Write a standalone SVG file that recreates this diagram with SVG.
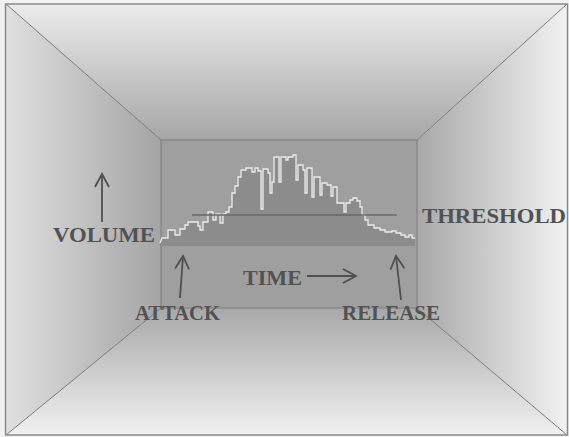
<svg xmlns="http://www.w3.org/2000/svg" width="569" height="437" viewBox="0 0 569 437">
<defs>
<linearGradient id="gTop" gradientUnits="userSpaceOnUse" x1="0" y1="4" x2="0" y2="140">
<stop offset="0" stop-color="#ececec"/><stop offset="1" stop-color="#a6a6a6"/>
</linearGradient>
<linearGradient id="gBot" gradientUnits="userSpaceOnUse" x1="0" y1="308" x2="0" y2="435">
<stop offset="0" stop-color="#a8a8a8"/><stop offset="1" stop-color="#f1f1f1"/>
</linearGradient>
<linearGradient id="gLeft" gradientUnits="userSpaceOnUse" x1="6" y1="0" x2="161" y2="0">
<stop offset="0" stop-color="#e0e0e0"/><stop offset="1" stop-color="#a4a4a4"/>
</linearGradient>
<linearGradient id="gRight" gradientUnits="userSpaceOnUse" x1="417" y1="0" x2="567" y2="0">
<stop offset="0" stop-color="#a8a8a8"/><stop offset="1" stop-color="#f2f2f2"/>
</linearGradient>
<marker id="open" viewBox="0 0 16 16" refX="14" refY="8" markerWidth="16" markerHeight="16" markerUnits="userSpaceOnUse" orient="auto">
<path d="M1,1 L14,8 L1,15" fill="none" stroke="#505050" stroke-width="1.8"/>
</marker>
<style>
.edge{stroke:#7c7c7c;stroke-width:1;fill:none}
.lbl{font-family:"Liberation Serif","DejaVu Serif",serif;font-weight:bold;font-size:21px;fill:#525252}
.arr{stroke:#505050;stroke-width:1.8;fill:none;marker-end:url(#open)}
</style>
</defs>
<rect x="0" y="0" width="569" height="437" fill="#f2f2f2"/>
<g id="room">
<polygon points="6,4 567,4 417,140 161,140" fill="url(#gTop)"/>
<polygon points="161,308 417,308 567,435 6,435" fill="url(#gBot)"/>
<polygon points="6,4 161,140 161,308 6,435" fill="url(#gLeft)"/>
<polygon points="567,4 417,140 417,308 567,435" fill="url(#gRight)"/>
<rect x="161" y="140" width="256" height="168" fill="#9f9f9f"/>
<rect x="161" y="140" width="256" height="168" class="edge"/>
<line x1="6" y1="4" x2="161" y2="140" class="edge"/>
<line x1="567" y1="4" x2="417" y2="140" class="edge"/>
<line x1="6" y1="435" x2="161" y2="308" class="edge"/>
<line x1="567" y1="435" x2="417" y2="308" class="edge"/>
<rect x="5.5" y="4" width="562" height="431" fill="none" stroke="#8a8a8a" stroke-width="1.5"/>
</g>
<g id="waveform">
<path d="M160,246 L160,243 L162,238 L168,238 L168,230 L175,230 L175,235 L180,235 L180,229 L185,229 L185,225 L188,225 L188,222 L198,222 L198,226 L200,226 L200,230 L203,230 L203,222 L208,222 L208,212 L213,212 L213,220 L216,220 L216,214 L220,214 L220,223 L223,223 L223,214 L226,214 L226,212 L229,212 L229,207 L232,207 L232,193 L235,193 L235,186 L238,186 L238,177 L241,177 L241,170 L246,170 L246,168 L252,168 L252,172 L255,172 L255,168 L258,168 L258,171 L261,171 L261,209 L263,209 L263,169 L268,169 L268,173 L270,173 L270,193 L272,193 L272,182 L274,182 L274,157 L279,157 L279,182 L281,182 L281,157 L286,157 L286,160 L288,160 L288,157 L293,157 L293,155 L296,155 L296,180 L298,180 L298,165 L303,165 L303,170 L305,170 L305,193 L307,193 L307,168 L312,168 L312,197 L314,197 L314,177 L320,177 L320,195 L322,195 L322,183 L327,183 L327,185 L331,185 L331,196 L333,196 L333,187 L337,187 L337,203 L344,203 L344,212 L346,212 L346,203 L350,203 L350,200 L353,200 L353,198 L357,198 L357,201 L360,201 L360,207 L362,207 L362,215 L365,215 L365,220 L368,220 L368,225 L374,225 L374,228 L380,228 L380,230 L385,230 L385,232 L392,232 L392,231 L396,231 L396,233 L401,233 L401,235 L405,235 L405,237 L409,237 L409,235 L412,235 L412,238 L415,238 L415,246 Z" fill="#8c8c8c"/>
<path d="M160,243 L162,238 L168,238 L168,230 L175,230 L175,235 L180,235 L180,229 L185,229 L185,225 L188,225 L188,222 L198,222 L198,226 L200,226 L200,230 L203,230 L203,222 L208,222 L208,212 L213,212 L213,220 L216,220 L216,214 L220,214 L220,223 L223,223 L223,214 L226,214 L226,212 L229,212 L229,207 L232,207 L232,193 L235,193 L235,186 L238,186 L238,177 L241,177 L241,170 L246,170 L246,168 L252,168 L252,172 L255,172 L255,168 L258,168 L258,171 L261,171 L261,209 L263,209 L263,169 L268,169 L268,173 L270,173 L270,193 L272,193 L272,182 L274,182 L274,157 L279,157 L279,182 L281,182 L281,157 L286,157 L286,160 L288,160 L288,157 L293,157 L293,155 L296,155 L296,180 L298,180 L298,165 L303,165 L303,170 L305,170 L305,193 L307,193 L307,168 L312,168 L312,197 L314,197 L314,177 L320,177 L320,195 L322,195 L322,183 L327,183 L327,185 L331,185 L331,196 L333,196 L333,187 L337,187 L337,203 L344,203 L344,212 L346,212 L346,203 L350,203 L350,200 L353,200 L353,198 L357,198 L357,201 L360,201 L360,207 L362,207 L362,215 L365,215 L365,220 L368,220 L368,225 L374,225 L374,228 L380,228 L380,230 L385,230 L385,232 L392,232 L392,231 L396,231 L396,233 L401,233 L401,235 L405,235 L405,237 L409,237 L409,235 L412,235 L412,238 L415,238" fill="none" stroke="#ececec" stroke-width="1.3"/>
<line id="threshold-line" x1="192" y1="215" x2="397" y2="215" stroke="#686868" stroke-width="1.6"/>
</g>
<g id="connectors">
<line x1="102" y1="222" x2="102" y2="174" class="arr"/>
<line x1="180" y1="298" x2="183" y2="256" class="arr"/>
<line x1="307" y1="276" x2="356" y2="276" class="arr"/>
<line x1="401" y1="300" x2="396" y2="256" class="arr"/>
</g>
<g id="volume"><text x="53" y="242" class="lbl" textLength="102" lengthAdjust="spacingAndGlyphs">VOLUME</text></g>
<g id="threshold"><text x="422" y="223" class="lbl" textLength="144" lengthAdjust="spacingAndGlyphs">THRESHOLD</text></g>
<g id="time"><text x="243" y="285" class="lbl" textLength="59" lengthAdjust="spacingAndGlyphs">TIME</text></g>
<g id="attack"><text x="135" y="320" class="lbl" textLength="85" lengthAdjust="spacingAndGlyphs">ATTACK</text></g>
<g id="release"><text x="342" y="320" class="lbl" textLength="98" lengthAdjust="spacingAndGlyphs">RELEASE</text></g>
</svg>
